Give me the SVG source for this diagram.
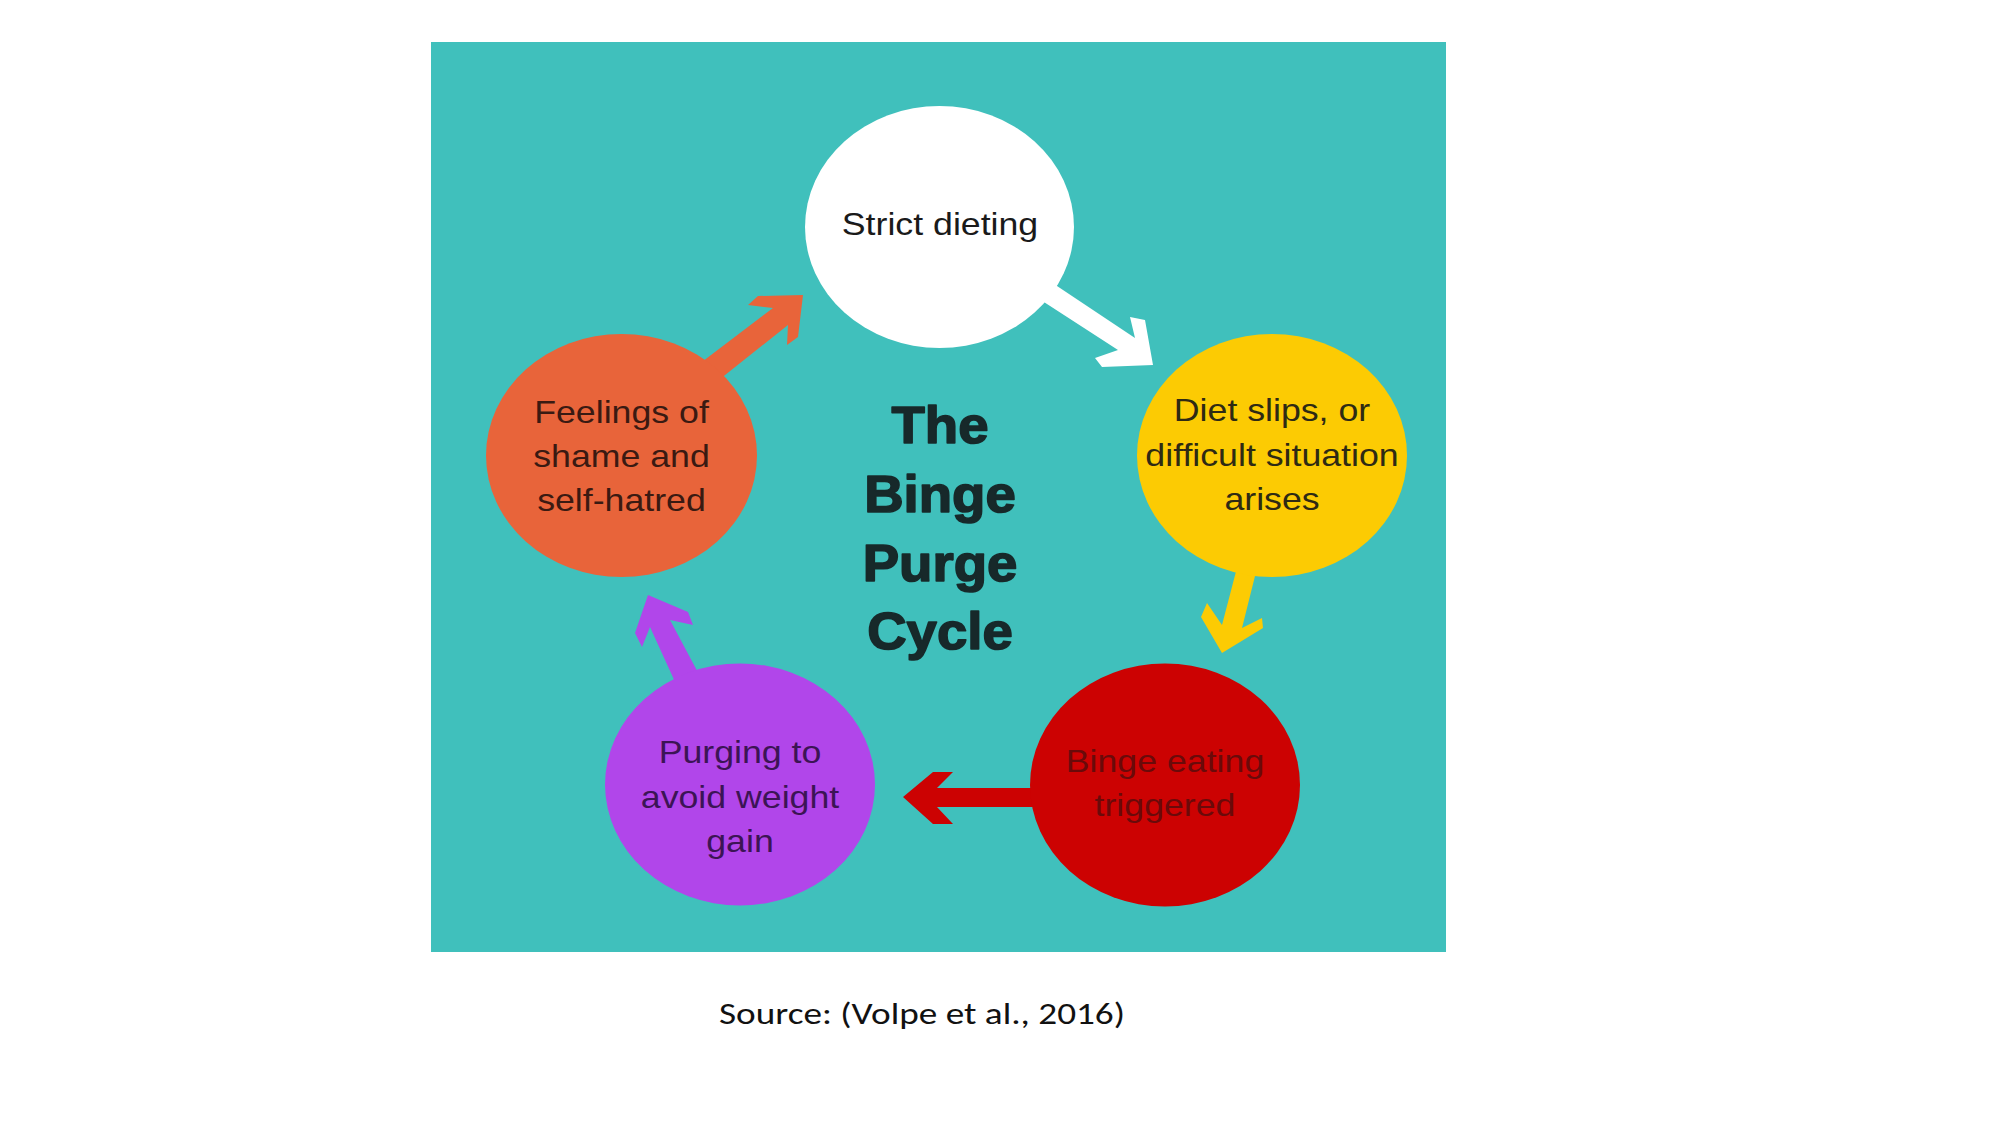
<svg xmlns="http://www.w3.org/2000/svg" width="2001" height="1125" viewBox="0 0 2001 1125">
  <style>
    .lbl { font-family: "Liberation Sans", Arial, sans-serif; font-size: 32px; text-anchor: middle; }
    .title { font-family: "Liberation Sans", Arial, sans-serif; font-weight: bold; font-size: 52px; text-anchor: middle; fill: #17292a; stroke: #17292a; stroke-width: 1.6px; stroke-linejoin: round; }
    .src { font-family: Carlito, Lato, "Liberation Sans", sans-serif; font-size: 31px; fill: #111111; }
  </style>
  <rect x="0" y="0" width="2001" height="1125" fill="#ffffff"/>
  <rect id="panel" x="431" y="42" width="1015" height="910" fill="#40c0bc"/>

  <g id="connectors">
    <polygon id="arrow-white" fill="#ffffff" points="1153,365 1102,367 1095,358 1118,350 1030,293 1045,278 1135,338 1130,317 1145,320"/>
    <polygon id="arrow-yellow" fill="#fccb03" points="1222,653 1201,617 1207,603 1222,625 1239,560 1259,560 1242,628 1262,618 1263,628"/>
    <polygon id="arrow-red" fill="#cc0202" points="903,797 933,772 953,772 937,788 1060,788 1060,807 937,807 953,824 933,824"/>
    <polygon id="arrow-purple" fill="#b146ea" points="648,595 635,633 642,647 650,627 681,695 710,695 670,620 693,625 688,612"/>
    <polygon id="arrow-orange" fill="#e8643a" points="803,295 798,337 787,345 788,325 700,395 690,371 773,308 748,305 758,296"/>
  </g>

  <g id="node-strict">
    <ellipse cx="939.5" cy="227" rx="134.5" ry="121" fill="#ffffff"/>
    <text class="lbl" fill="#1a1a1a" transform="translate(940 235) scale(1.116 1)">Strict dieting</text>
  </g>
  <g id="node-diet">
    <ellipse cx="1272" cy="455.5" rx="135" ry="121.5" fill="#fccb03"/>
    <text class="lbl" fill="#2e2a14" transform="translate(1272 0) scale(1.116 1)"><tspan x="0" y="421">Diet slips, or</tspan><tspan x="0" y="466">difficult situation</tspan><tspan x="0" y="510">arises</tspan></text>
  </g>
  <g id="node-binge">
    <ellipse cx="1165" cy="785" rx="135" ry="121.5" fill="#cc0202"/>
    <text class="lbl" fill="#6a0a0a" transform="translate(1165 0) scale(1.116 1)"><tspan x="0" y="772">Binge eating</tspan><tspan x="0" y="816">triggered</tspan></text>
  </g>
  <g id="node-purge">
    <ellipse cx="740" cy="784.5" rx="135" ry="121" fill="#b146ea"/>
    <text class="lbl" fill="#3c1455" transform="translate(740 0) scale(1.116 1)"><tspan x="0" y="763">Purging to</tspan><tspan x="0" y="808">avoid weight</tspan><tspan x="0" y="852">gain</tspan></text>
  </g>
  <g id="node-shame">
    <ellipse cx="621.5" cy="455.5" rx="135.5" ry="121.5" fill="#e8643a"/>
    <text class="lbl" fill="#3a1a12" transform="translate(621.5 0) scale(1.116 1)"><tspan x="0" y="423">Feelings of</tspan><tspan x="0" y="467">shame and</tspan><tspan x="0" y="511">self-hatred</tspan></text>
  </g>

  <g id="title">
    <text class="title" transform="translate(940 0) scale(1.05 1)"><tspan x="0" y="443">The</tspan><tspan x="0" y="512">Binge</tspan><tspan x="0" y="581">Purge</tspan><tspan x="0" y="649">Cycle</tspan></text>
  </g>

  <text id="source" class="src" x="719" y="1024" textLength="406" lengthAdjust="spacingAndGlyphs">Source: (Volpe et al., 2016)</text>
</svg>
